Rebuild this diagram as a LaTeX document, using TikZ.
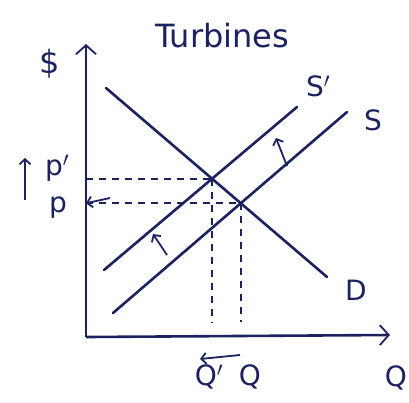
\documentclass[tikz,border=0pt]{standalone}
\usepackage{fontspec}
\setmainfont{DejaVu Sans}
\usetikzlibrary{arrows.meta,intersections}
\definecolor{ink}{HTML}{1C2260}
\tikzset{
  curve/.style={draw=ink,line width=2.6pt,line cap=round},
  axisline/.style={draw=ink,line width=2.6pt,-{Straight Barb[length=9pt,width=20pt,line width=1.8pt]}},
  guide/.style={draw=ink,line width=1.6pt,dash pattern=on 7pt off 6pt},
  shiftarrow/.style={draw=ink,line width=1.8pt,-{Straight Barb[length=5pt,width=11pt]}},
  lbl/.style={text=ink,inner sep=0pt,font=\fontsize{28}{30}\selectfont},
}
\begin{document}
\begin{tikzpicture}[x=1pt,y=-1pt]
\useasboundingbox (0,0) rectangle (409,402);
\fill[white] (0,0) rectangle (409,402);
% axes
\coordinate (O) at (86,337);
\coordinate (Ytop) at (86,44);
\coordinate (Xend) at (390,335);
\draw[axisline] (O) -- (Ytop);
\draw[axisline] (O) -- (Xend);
% curves
\coordinate (D1) at (106,88);  \coordinate (D2) at (327,277);
\coordinate (Sp1) at (104,270); \coordinate (Sp2) at (297,107);
\coordinate (S1) at (113,313); \coordinate (S2) at (347,112);
\draw[curve,name path=D] (D1) -- (D2);
\draw[curve,name path=Sp] (Sp1) -- (Sp2);
\draw[curve,name path=S] (S1) -- (S2);
\path[name intersections={of=D and Sp,by=E1}];
\path[name intersections={of=D and S,by=E0}];
% guides
\coordinate (Pp) at (O |- E1);
\coordinate (P) at (O |- E0);
\coordinate (Qp) at (E1 |- 0,322);
\coordinate (Q) at (E0 |- 0,322);
\draw[guide] (Pp) -- (E1);
\draw[guide] (P) -- (E0);
\draw[guide] (E1) -- (Qp);
\draw[guide] (E0) -- (Q);
\coordinate (pa1) at (110,198);
\draw[shiftarrow] (pa1) -- (P);
% shift arrows
\coordinate (a1s) at (287,166); \coordinate (a1e) at (276,138);
\draw[shiftarrow] (a1s) -- (a1e);
\coordinate (a2s) at (167,255); \coordinate (a2e) at (153,234);
\draw[shiftarrow] (a2s) -- (a2e);
% labels
\node[lbl,font=\fontsize{32}{34}\selectfont] (title) at (222,36) {Turbines};
\node[lbl,font=\fontsize{32}{34}\selectfont] (dollar) at (50,64) {\$};
\node[lbl] (lD) at (356,290) {D};
\node[lbl] (lSp) at (318,86) {S$'$};
\node[lbl] (lS) at (373,120) {S};
\node[lbl] (lpp) at (57,168) {p$'$};
\node[lbl] (lp) at (58,208) {p};
\node[lbl] (lQp) at (209,377) {Q$'$};
\node[lbl] (lQ) at (250,377) {Q};
\node[lbl] (lQax) at (396,378) {Q};
\coordinate (u1) at (25,200); \coordinate (u2) at (25,158);
\draw[shiftarrow] (u1) -- (u2);
\coordinate (q1) at (240,355); \coordinate (q2) at (200,359);
\draw[shiftarrow] (q1) -- (q2);
\end{tikzpicture}
\end{document}
